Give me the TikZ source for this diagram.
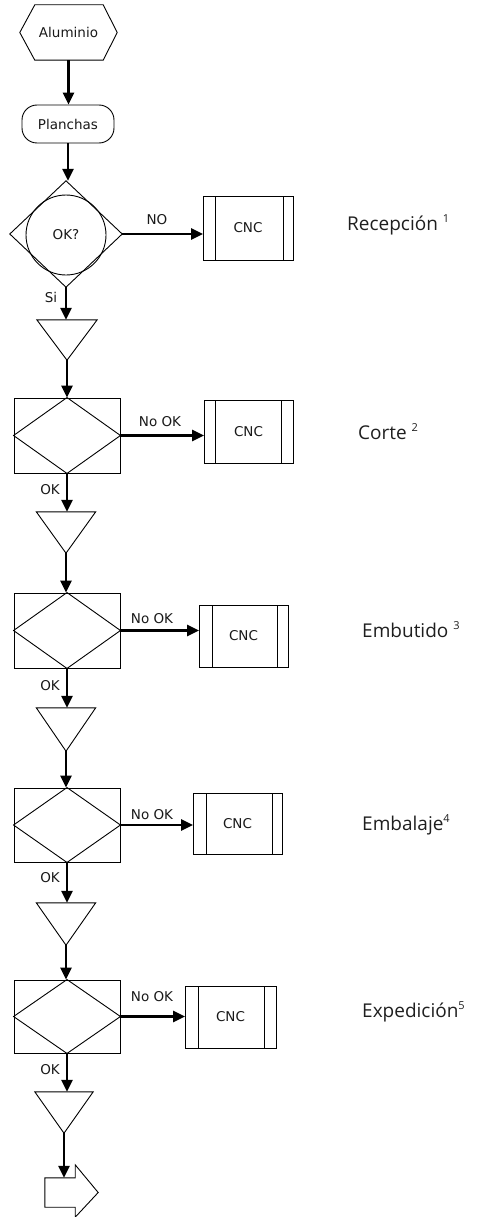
\documentclass[tikz,border=0pt]{standalone}
\usepackage{fontspec}
\newfontfamily\smallf{DejaVu Sans}
\newfontfamily\bigf{Open Sans}
\usetikzlibrary{arrows.meta}
\newcommand{\supnum}[1]{\raisebox{0.8ex}{\fontsize{11}{11}\selectfont #1}}
\begin{document}
\begin{tikzpicture}[x=1pt,y=-1pt,
  shp/.style={draw=black, line width=0.9pt},
  lab/.style={font=\smallf\fontsize{13.5}{16}\selectfont, text=black!90, inner sep=0pt},
  side/.style={font=\bigf\fontsize{19}{22}\selectfont, text=black!88, inner sep=0pt, anchor=west},
  flow/.style={line width=2.6pt, -{Triangle[length=12pt,width=11pt]}},
  cnc/.style={shp, inner sep=0pt, outer sep=0pt, font=\smallf\fontsize{13.5}{16}\selectfont, text=black!90}
]
\useasboundingbox (0,0) rectangle (479,1217);

% Aluminio (hexagon)
\node[lab, minimum width=97pt, minimum height=55pt] (alu) at (68.5,32.5) {Aluminio};
\draw[shp] (alu.west) -- ([xshift=15pt]alu.north west) -- ([xshift=-14pt]alu.north east) -- (alu.east)
  -- ([xshift=-14pt]alu.south east) -- ([xshift=15pt]alu.south west) -- cycle;

% Planchas
\node[lab, shp, rounded corners=15pt, minimum width=92pt, minimum height=38pt] (pl) at (68,124) {Planchas};

% Decision 1
\node[inner sep=0pt, minimum width=112pt, minimum height=106pt] (d1) at (66,234) {};
\draw[shp] (d1.north) -- (d1.east) -- (d1.south) -- (d1.west) -- cycle;
\node[lab, shp, circle, minimum size=80pt] (ok) at (66,235) {OK?};
\node[cnc, minimum width=90pt, minimum height=64pt] (c1) at (248,228) {CNC};
\draw[shp] ([xshift=12pt]c1.north west) -- ([xshift=12pt]c1.south west);
\draw[shp] ([xshift=-10pt]c1.north east) -- ([xshift=-10pt]c1.south east);
\node[side] (s1) at (347,225) {Recepción \supnum{1}};

% Triangles
\node[inner sep=0pt, minimum width=60pt, minimum height=40pt] (t1) at (67,340) {};
\node[inner sep=0pt, minimum width=59pt, minimum height=41pt] (t2) at (66,532.5) {};
\node[inner sep=0pt, minimum width=59pt, minimum height=43pt] (t3) at (66,729.5) {};
\node[inner sep=0pt, minimum width=59pt, minimum height=42pt] (t4) at (66,924) {};
\node[inner sep=0pt, minimum width=58pt, minimum height=41pt] (t5) at (64,1112.5) {};
\foreach \t in {t1,t2,t3,t4,t5}
  \draw[shp] (\t.north west) -- (\t.north east) -- (\t.south) -- cycle;

% Inspection rectangles with diamonds
\node[shp, inner sep=0pt, minimum width=106pt, minimum height=75pt] (r2) at (67,435.5) {};
\node[shp, inner sep=0pt, minimum width=106pt, minimum height=75pt] (r3) at (67,630.5) {};
\node[shp, inner sep=0pt, minimum width=106pt, minimum height=74pt] (r4) at (67,825) {};
\node[shp, inner sep=0pt, minimum width=106pt, minimum height=73pt] (r5) at (67,1016.5) {};
\foreach \r in {r2,r3,r4,r5}
  \draw[shp] (\r.north) -- (\r.east) -- (\r.south) -- (\r.west) -- cycle;

% CNC boxes
\node[cnc, minimum width=89pt, minimum height=63pt] (c2) at (248.5,431.5) {CNC};
\node[cnc, minimum width=89pt, minimum height=62pt] (c3) at (243.5,636) {CNC};
\node[cnc, minimum width=89pt, minimum height=61pt] (c4) at (237.5,823.5) {CNC};
\node[cnc, minimum width=91pt, minimum height=62pt] (c5) at (230.5,1017) {CNC};
\foreach \c/\a/\b in {c2/11/12, c3/13/11, c4/13/10, c5/13/12}{
  \draw[shp] ([xshift=\a pt]\c.north west) -- ([xshift=\a pt]\c.south west);
  \draw[shp] ([xshift=-\b pt]\c.north east) -- ([xshift=-\b pt]\c.south east);
}

% Side labels
\node[side] (s2) at (358,432) {Corte \supnum{2}};
\node[side] (s3) at (362,630) {Embutido \supnum{3}};
\node[side] (s4) at (362,825) {Embalaje\supnum{4}};
\node[side] (s5) at (362,1012) {Expedición\supnum{5}};

% Final block arrow
\node[inner sep=0pt, minimum width=30pt, minimum height=29pt] (ba) at (60,1192.5) {};
\draw[shp] (ba.north west) -- (ba.north east) -- ([yshift=13pt]ba.north east) -- ([xshift=23pt]ba.east)
  -- ([yshift=-10pt]ba.south east) -- (ba.south east) -- (ba.south west) -- cycle;

% Vertical flow arrows
\draw[flow] (alu.south) -- (alu.south |- pl.north);
\draw[flow] (pl.south) -- (pl.south |- d1.north);
\draw[flow] (d1.south) -- (d1.south |- t1.north);
\draw[flow] (t1.south) -- (t1.south |- r2.north);
\draw[flow] (r2.south) -- (r2.south |- t2.north);
\draw[flow] (t2.south) -- (t2.south |- r3.north);
\draw[flow] (r3.south) -- (r3.south |- t3.north);
\draw[flow] (t3.south) -- (t3.south |- r4.north);
\draw[flow] (r4.south) -- (r4.south |- t4.north);
\draw[flow] (t4.south) -- (t4.south |- r5.north);
\draw[flow] (r5.south) -- (r5.south |- t5.north);
\draw[flow] (t5.south) -- (t5.south |- ba.north);

% Horizontal arrows to CNC
\draw[flow] (d1.east) -- (d1.east -| c1.west);
\draw[flow] (r2.east) -- (r2.east -| c2.west);
\draw[flow] (r3.east) -- (r3.east -| c3.west);
\draw[flow] (r4.east) -- (r4.east -| c4.west);
\draw[flow] (r5.east) -- (r5.east -| c5.west);

% Connector labels
\node[lab] (lno) at (157,220) {NO};
\node[lab] (lsi) at (51,297) {Si};
\node[lab] (ln2) at (160,422) {No OK};
\node[lab] (ln3) at (152,619) {No OK};
\node[lab] (ln4) at (152,815) {No OK};
\node[lab] (ln5) at (152,997) {No OK};
\node[lab] (lo2) at (50,490) {OK};
\node[lab] (lo3) at (50,686) {OK};
\node[lab] (lo4) at (50,878) {OK};
\node[lab] (lo5) at (50,1070) {OK};
\end{tikzpicture}
\end{document}
